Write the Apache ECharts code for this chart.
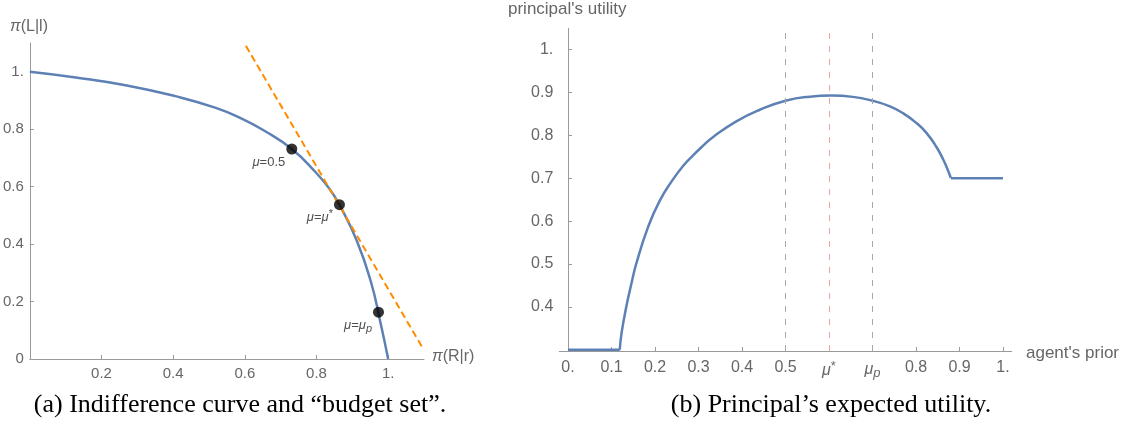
<!DOCTYPE html>
<html><head><meta charset="utf-8">
<script src="https://cdn.jsdelivr.net/npm/echarts@6/dist/echarts.min.js"></script>
<style>html,body{margin:0;padding:0;background:#fff}#c{width:1128px;height:427px}</style>
</head><body><div id="c"></div>
<script>
// ---------- Panel (a): indifference curve and budget line ----------
const curveX = [0, 0.128, 0.267, 0.406, 0.517, 0.591, 0.651, 0.731, 0.797, 0.837, 0.864, 0.913, 0.952, 0.978, 1.0];
const curveY = [1.0, 0.980, 0.953, 0.915, 0.875, 0.837, 0.797, 0.731, 0.651, 0.591, 0.537, 0.410, 0.268, 0.130, 0.0];
const budgetX = [0.603, 1.097];
const budgetY = [1.09, 0.037];
const pointX = [0.731, 0.864, 0.973];
const pointY = [0.731, 0.537, 0.163];
const pointLabels = ['{i|μ}{n|=0.5}', '{i|μ}{n|=}{i|μ}{sup|*}', '{i|μ}{n|=}{i|μ}{sub|p}'];
const leftXTicks = [0.2, 0.4, 0.6, 0.8, 1.0];
const leftXTickLabels = ['0.2', '0.4', '0.6', '0.8', '1.'];
const leftYTicks = [0, 0.2, 0.4, 0.6, 0.8, 1.0];
const leftYTickLabels = ['0', '0.2', '0.4', '0.6', '0.8', '1.'];

// ---------- Panel (b): principal's expected utility ----------
const lowX = [0, 0.119];
const lowY = [0.3, 0.3];
const utilX = [0.119, 0.123, 0.134, 0.146, 0.157, 0.184, 0.211, 0.241, 0.264, 0.287, 0.310, 0.333, 0.387, 0.441, 0.500, 0.556, 0.605, 0.655, 0.700, 0.740, 0.770, 0.801, 0.824, 0.847, 0.862, 0.874, 0.880];
const utilY = [0.300, 0.338, 0.400, 0.455, 0.501, 0.586, 0.648, 0.697, 0.728, 0.753, 0.7755, 0.796, 0.833, 0.860, 0.881, 0.8905, 0.893, 0.890, 0.881, 0.868, 0.852, 0.829, 0.806, 0.773, 0.745, 0.717, 0.701];
const highX = [0.88, 1.0];
const highY = [0.70, 0.70];
const refLines = [0.5, 0.604, 0.70];
const rightXTicks = [0, 0.1, 0.2, 0.3, 0.4, 0.5, 0.6, 0.7, 0.8, 0.9, 1.0];
const rightXTickLabels = ['0.', '0.1', '0.2', '0.3', '0.4', '0.5', '{i|μ}{sup|*}', '{i|μ}{sub|p}', '0.8', '0.9', '1.'];
const rightYTicks = [0.4, 0.5, 0.6, 0.7, 0.8, 0.9, 1.0];
const rightYTickLabels = ['0.4', '0.5', '0.6', '0.7', '0.8', '0.9', '1.'];

const zip = (xs, ys) => xs.map((x, i) => [x, ys[i]]);
const fmt = (ticks, labels) => v => {
  const i = ticks.findIndex(t => Math.abs(t - v) < 1e-6);
  return i >= 0 ? labels[i] : '';
};
const SANS = 'Liberation Sans';
const AX = '#9a9a9a', LAB = '#666';
const blue = '#5E81B5';

function tickRich(size) {
  return {
    i: {fontStyle: 'italic', fontSize: size, fontFamily: SANS, color: LAB},
    sup: {fontSize: size - 3, fontFamily: SANS, color: LAB, padding: [0, 0, 8, 0]},
    sub: {fontStyle: 'italic', fontSize: size - 3, fontFamily: SANS, color: LAB, padding: [7, 0, 0, 0]}
  };
}
function mkAxis(grid, min, max, ticks, labels, size, margin) {
  return {
    gridIndex: grid, type: 'value', min: min, max: max,
    axisLine: {show: true, lineStyle: {color: AX, width: 1}},
    axisTick: {show: true, inside: true, length: 4, customValues: ticks, lineStyle: {color: AX}},
    axisLabel: {customValues: ticks, formatter: fmt(ticks, labels), color: LAB, fontSize: size,
      fontFamily: SANS, margin: margin, rich: tickRich(size)},
    splitLine: {show: false}
  };
}

const chart = echarts.init(document.getElementById('c'), null, {renderer: 'canvas'});
const ptRich = {
  n: {fontSize: 13, fontFamily: SANS, color: '#222'},
  i: {fontSize: 13, fontFamily: SANS, fontStyle: 'italic', color: '#222'},
  sup: {fontSize: 11, fontFamily: SANS, color: '#222', padding: [0, 0, 8, 0]},
  sub: {fontSize: 11, fontFamily: SANS, fontStyle: 'italic', color: '#222', padding: [7, 0, 0, 0]}
};
const refColors = ['#a8a8a8', '#f2a0a0', '#a8a8a8'];

const option = {
  animation: false,
  backgroundColor: '#fff',
  grid: [
    {left: 29, top: 43, width: 395, height: 316},
    {left: 559.3, top: 28.3, width: 452.4, height: 322.7}
  ],
  xAxis: [
    mkAxis(0, 0, 1.1, leftXTicks, leftXTickLabels, 15, 7),
    mkAxis(1, -0.02, 1.02, rightXTicks, rightXTickLabels, 16, 9)
  ],
  yAxis: [
    mkAxis(0, 0, 1.1, leftYTicks, leftYTickLabels, 15, 6),
    mkAxis(1, 0.297, 1.05, rightYTicks, rightYTickLabels, 16, 6)
  ],
  series: [
    {type: 'line', xAxisIndex: 0, yAxisIndex: 0, data: zip(curveX, curveY), smooth: 0.5,
      showSymbol: false, z: 2, lineStyle: {color: blue, width: 2.5}},
    {type: 'line', xAxisIndex: 0, yAxisIndex: 0, data: zip(budgetX, budgetY), showSymbol: false, z: 3,
      lineStyle: {color: '#ff8c00', width: 2, type: [7, 4]}},
    {type: 'scatter', xAxisIndex: 0, yAxisIndex: 0, z: 4, symbolSize: 11,
      itemStyle: {color: '#000'},
      data: pointX.map((x, i) => ({value: [x, pointY[i]], label: {formatter: pointLabels[i]}})),
      label: {show: true, position: 'left', distance: 1, offset: [0, 13], rich: ptRich}},
    {type: 'line', xAxisIndex: 1, yAxisIndex: 1, data: [], z: 1,
      markLine: {silent: true, symbol: ['none', 'none'], label: {show: false},
        data: refLines.map((v, i) => ({xAxis: v, lineStyle: {color: refColors[i], width: 1, type: [6, 7]}}))}},
    {type: 'line', xAxisIndex: 1, yAxisIndex: 1, data: zip(lowX, lowY), showSymbol: false, z: 3,
      lineStyle: {color: blue, width: 2.5}},
    {type: 'line', xAxisIndex: 1, yAxisIndex: 1, data: zip(utilX, utilY), smooth: 0.5, showSymbol: false, z: 3,
      lineStyle: {color: blue, width: 2.5}},
    {type: 'line', xAxisIndex: 1, yAxisIndex: 1, data: zip(highX, highY), showSymbol: false, z: 3,
      lineStyle: {color: blue, width: 2.5}}
  ],
  graphic: [
    {type: 'text', x: 29, y: 27, style: {text: '{i|π}{n|(L|l)}', align: 'center', verticalAlign: 'middle',
      rich: {i: {fontStyle: 'italic', fontSize: 16, fontFamily: SANS, fill: LAB}, n: {fontSize: 16, fontFamily: SANS, fill: LAB}}}},
    {type: 'text', x: 432, y: 357, style: {text: '{i|π}{n|(R|r)}', align: 'left', verticalAlign: 'middle',
      rich: {i: {fontStyle: 'italic', fontSize: 16, fontFamily: SANS, fill: LAB}, n: {fontSize: 16, fontFamily: SANS, fill: LAB}}}},
    {type: 'text', x: 508, y: 9, style: {text: "principal's utility", fontSize: 17, fontFamily: SANS, fill: LAB,
      align: 'left', verticalAlign: 'middle'}},
    {type: 'text', x: 1026, y: 353, style: {text: "agent's prior", fontSize: 17, fontFamily: SANS, fill: LAB,
      align: 'left', verticalAlign: 'middle'}},
    {type: 'text', x: 240, y: 405, style: {text: '(a) Indifference curve and \u201cbudget set\u201d.', fontSize: 26,
      fontFamily: 'Liberation Serif', fill: '#000', align: 'center', verticalAlign: 'middle'}},
    {type: 'text', x: 831, y: 405, style: {text: "(b) Principal\u2019s expected utility.", fontSize: 26,
      fontFamily: 'Liberation Serif', fill: '#000', align: 'center', verticalAlign: 'middle'}}
  ]
};
chart.setOption(option);
</script></body></html>
